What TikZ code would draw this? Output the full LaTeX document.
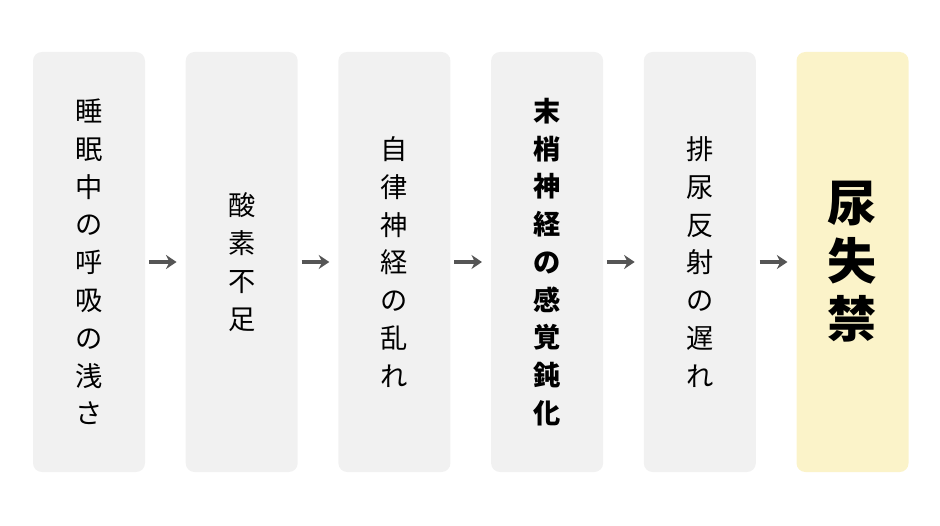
\documentclass[tikz,border=0pt]{standalone}
\usepackage{fontspec}
\setmainfont{Noto Sans CJK JP}
\usetikzlibrary{arrows.meta, positioning}
\definecolor{boxgray}{HTML}{F1F1F1}
\definecolor{boxyellow}{HTML}{FBF3C9}
\definecolor{arrowgray}{HTML}{555555}

\begin{document}
\begin{tikzpicture}[
    stage/.style={fill=boxgray, rounded corners=5pt, minimum width=2.24cm, minimum height=8.4cm,
        align=center, font=\fontsize{15.5}{21.5}\selectfont, inner sep=0pt},
    goal/.style={stage, fill=boxyellow, font=\fontsize{28}{33}\selectfont\bfseries},
    flow/.style={-{Stealth[length=6pt,width=8pt]}, line width=2.2pt, arrowgray}
]
    \useasboundingbox (0,0) rectangle (18.8,10.5);
    % Stages
    \node[stage] (breath) at (1.78,5.26) {睡\\眠\\中\\の\\呼\\吸\\の\\浅\\さ};
    \node[stage, right=0.8cm of breath] (oxygen) {酸\\素\\不\\足};
    \node[stage, right=0.8cm of oxygen] (nerve) {自\\律\\神\\経\\の\\乱\\れ};
    \node[stage, right=0.8cm of nerve, font=\fontsize{15.5}{21.5}\selectfont\bfseries] (sense) {末\\梢\\神\\経\\の\\感\\覚\\鈍\\化};
    \node[stage, right=0.8cm of sense] (reflex) {排\\尿\\反\\射\\の\\遅\\れ};
    \node[goal, right=0.8cm of reflex] (result) {尿\\失\\禁};
    % Arrows
    \foreach \a/\b in {breath/oxygen, oxygen/nerve, nerve/sense, sense/reflex, reflex/result}
        \draw[flow] ([xshift=2pt]\a.east) -- ([xshift=-5pt]\b.west);
\end{tikzpicture}
\end{document}
